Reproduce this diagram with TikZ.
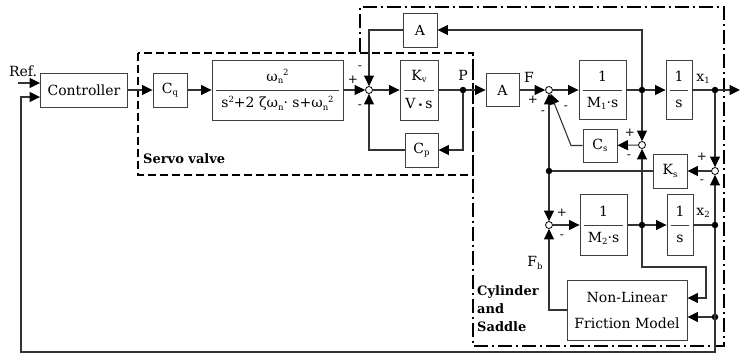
\documentclass[tikz,border=0pt]{standalone}
\usepackage{fontspec}
\setmainfont{DejaVu Serif}
\usetikzlibrary{arrows.meta,calc}
\newcommand\sbs[1]{\raisebox{-0.3ex}{\fontsize{8.5}{9}\selectfont #1}}
\newcommand\sps[1]{\raisebox{0.75ex}{\fontsize{8.5}{9}\selectfont #1}}
\newcommand\myfrac[7]{%
  \node[blk, minimum width=#4pt, minimum height=#5pt] (#1) at (#2,#3) {};
  \draw[black!75, line width=0.9pt] ([xshift=4pt]#1.west) -- ([xshift=-4pt]#1.east);
  \node at ([yshift=13.5pt]#1.center) {#6};
  \node at ([yshift=-13.5pt]#1.center) {#7};
}
\begin{document}
\begin{tikzpicture}[x=1pt,y=-1pt,
  every node/.style={font=\fontsize{14}{17}\selectfont, inner sep=0pt},
  blk/.style={draw=black!75, line width=0.9pt, rectangle, fill=white},
  ln/.style={draw=black!80, line width=1.1pt},
  arr/.style={ln, -{Triangle[length=10.5pt,width=10pt,color=black]}},
  sumn/.style={circle, draw=black, line width=0.8pt, fill=white, minimum size=7pt, inner sep=0pt},
  dotn/.style={circle, fill=black, minimum size=6.5pt, inner sep=0pt},
  sgn/.style={font=\fontsize{12}{14}\selectfont},
  dsh/.style={line width=2.2pt, dash pattern=on 8pt off 4pt},
  dashdot/.style={line width=2.2pt, dash pattern=on 14pt off 4pt on 2pt off 4pt},
  bl/.style={font=\fontsize{13}{15}\selectfont\bfseries, anchor=west}
]
\useasboundingbox (0,0) rectangle (741,356);
% grouping boxes
\draw[dsh] (138,53) rectangle (473,175);
\draw[dashdot] (360,52) -- (360,7) -- (724,7) -- (724,346) -- (473,346) -- (473,52);
\node[bl] (lsv) at (143,159) {Servo valve};
\node[bl] (lcy) at (477,292) {Cylinder};
\node[bl] (lan) at (477,309) {and};
\node[bl] (lsa) at (477,327) {Saddle};

% blocks
\node[blk, minimum width=87pt, minimum height=34pt] (ctrl) at (84,90) {Controller};
\node[blk, minimum width=34pt, minimum height=34pt] (cq) at (170,90) {C\sbs{q}};
\myfrac{tf}{277.5}{90}{131}{60}{ω\sbs{n}\sps{2}}{s\sps{2}+2 ζω\sbs{n}· s+ω\sbs{n}\sps{2}}
\node[sumn] (sum1) at (369,90) {};
\myfrac{kv}{419}{90}{38}{60}{K\sbs{v}}{V\,{\fontsize{9}{9}\selectfont •}\,s}
\node[dotn] (pdot) at (463,90) {};
\node[blk, minimum width=33pt, minimum height=34pt] (cp) at (421.5,150) {C\sbs{p}};
\node[blk, minimum width=34pt, minimum height=34pt] (atop) at (420,30) {A};
\node[blk, minimum width=33pt, minimum height=33pt] (a2) at (502.5,90) {A};
\node[sumn] (sum2) at (549,90) {};
\myfrac{m1}{602.5}{90}{47}{59}{1}{M\sbs{1}·s}
\node[dotn] (b1) at (642,90) {};
\myfrac{s1}{679}{90}{26}{59}{1}{s}
\node[dotn] (x1dot) at (715,90) {};
\coordinate (out) at (740,90);
\node[sumn] (sum3) at (642,145) {};
\node[blk, minimum width=34pt, minimum height=33pt] (cs) at (600,145.5) {C\sbs{s}};
\coordinate (csk) at (571,145.5);
\node[blk, minimum width=34pt, minimum height=34pt] (ks) at (670,171) {K\sbs{s}};
\node[sumn] (sum4) at (715,171) {};
\node[dotn] (ksdot) at (549,171) {};
\node[sumn] (sum5) at (549,225) {};
\myfrac{m2}{603.5}{225}{47}{61}{1}{M\sbs{2}·s}
\node[dotn] (b2) at (642,225) {};
\myfrac{s2}{680}{225}{26}{61}{1}{s}
\node[dotn] (x2dot) at (715,225) {};
\node[blk, minimum width=120pt, minimum height=60pt, align=center, font=\fontsize{14}{26}\selectfont] (nlf) at (627,310) {Non-Linear\\Friction Model};
\node[dotn] (fbdot) at (715,317) {};
\coordinate (c2) at (706,267);
\coordinate (c3) at (706,298);
\coordinate (bot) at (715,352);
\coordinate (botl) at (21,352);
\coordinate (fbin) at (21,97);
\coordinate (refin) at (18,83);

% labels
\node (lref) at (23,71) {Ref.};
\node (lp) at (463,75) {P};
\node (lf) at (529,77) {F};
\node (lx1) at (703,79) {x\sbs{1}};
\node (lx2) at (703,213) {x\sbs{2}};
\node (lfb) at (535,263) {F\sbs{b}};
% signs
\node[sgn] (s1a) at (353,80) {+};
\node[sgn] (s1b) at (360,68) {-};
\node[sgn] (s1c) at (360,107) {-};
\node[sgn] (s2a) at (533,100) {+};
\node[sgn] (s2b) at (543,113) {-};
\node[sgn] (s2c) at (566,108) {-};
\node[sgn] (s3a) at (630,133) {+};
\node[sgn] (s3b) at (629,157) {-};
\node[sgn] (s4a) at (702,157) {+};
\node[sgn] (s4b) at (702,182) {-};
\node[sgn] (s5a) at (562,213) {+};
\node[sgn] (s5b) at (562,237) {-};

% connectors
\draw[arr] (refin) -- (ctrl.west |- refin);
\draw[arr] (ctrl) -- (cq);
\draw[arr] (cq) -- (tf);
\draw[arr] (tf) -- (sum1);
\draw[arr] (sum1) -- (kv);
\draw[ln] (kv) -- (pdot);
\draw[arr] (pdot) -- (a2);
\draw[arr] (pdot) |- (cp.east);
\draw[arr] (cp.west) -| (sum1);
\draw[arr] (b1) |- (atop.east);
\draw[arr] (atop.west) -| (sum1);
\draw[arr] (a2) -- (sum2);
\draw[arr] (sum2) -- (m1);
\draw[ln] (m1) -- (b1);
\draw[arr] (b1) -- (s1);
\draw[ln] (s1) -- (x1dot);
\draw[arr] (x1dot) -- (out);
\draw[arr] (b1) -- (sum3);
\draw[arr] (sum3) -- (cs);
\draw[arr] (cs.west) -- (csk) -- (sum2);
\draw[arr] (x1dot) -- (sum4);
\draw[arr] (sum4) -- (ks);
\draw[ln] (ks) -- (ksdot);
\draw[arr] (ksdot) -- (sum2);
\draw[arr] (ksdot) -- (sum5);
\draw[arr] (sum5) -- (m2);
\draw[ln] (m2) -- (b2);
\draw[arr] (b2) -- (s2);
\draw[ln] (s2) -- (x2dot);
\draw[arr] (b2) -- (sum3);
\draw[arr] (x2dot) -- (sum4);
\draw[arr] (b2) |- (c2) -- (c3) -- (c3 -| nlf.east);
\draw[arr] (fbdot) -- (fbdot -| nlf.east);
\draw[arr] (nlf.west) -| (sum5);
\draw[arr] (x2dot) -- (bot) -- (botl) -- (fbin) -- (ctrl.west |- fbin);
\end{tikzpicture}
\end{document}
